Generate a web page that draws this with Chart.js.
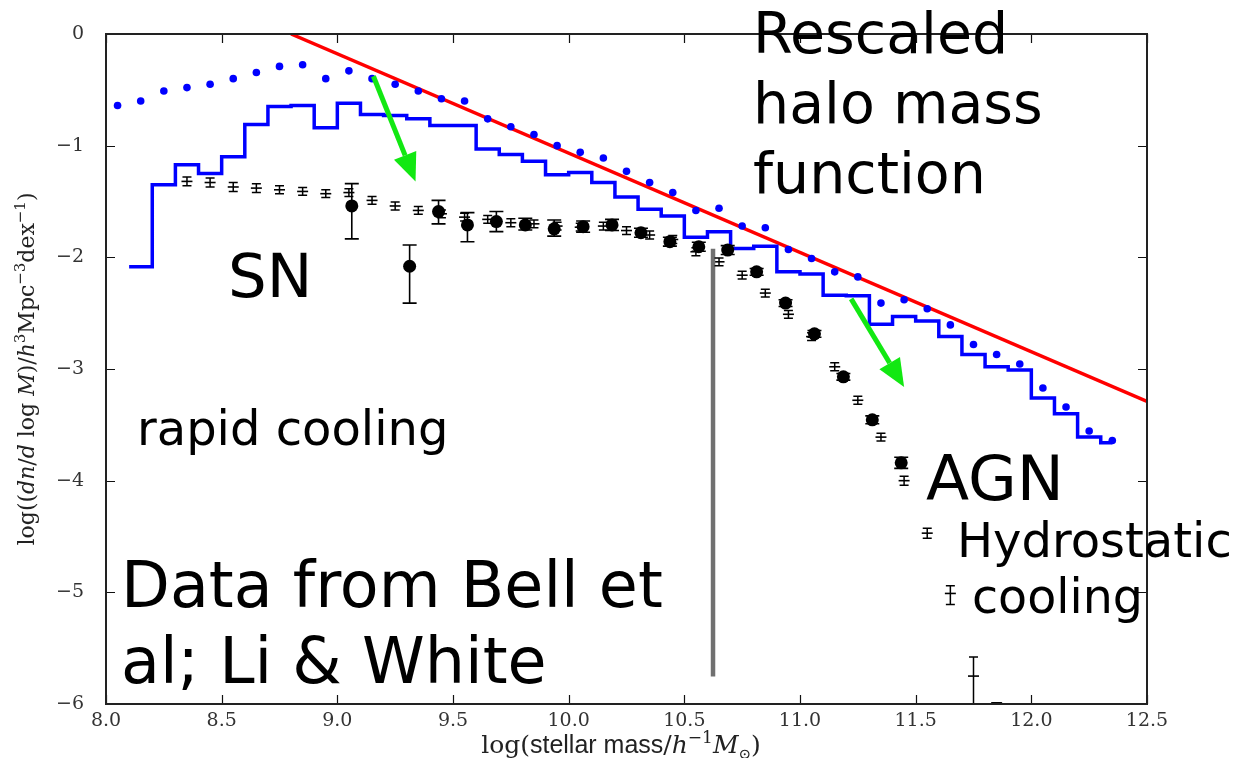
<!DOCTYPE html>
<html><head><meta charset="utf-8">
<script src="https://cdn.jsdelivr.net/npm/chart.js@4.4.1/dist/chart.umd.min.js"></script>
<style>html,body{margin:0;padding:0;background:#fff;}#wrap{width:1246px;height:758px;position:relative;}</style>
</head><body><div id="wrap"><canvas id="c"></canvas></div>
<script>
// ---- data ----
const xTicks = [8.0, 8.5, 9.0, 9.5, 10.0, 10.5, 11.0, 11.5, 12.0, 12.5];
const yTicks = [0, -1, -2, -3, -4, -5, -6];

// rescaled halo mass function (red line)
const haloX = [8.8, 12.5];
const haloY = [0, -3.29];

// rescaled halo mass function (blue dots)
const dotX = [8.05,8.15,8.25,8.35,8.45,8.55,8.65,8.75,8.85,8.95,9.05,9.15,9.25,9.35,9.45,9.55,9.65,9.75,9.85,9.95,10.05,10.15,10.25,10.35,10.45,10.55,10.65,10.75,10.85,10.95,11.05,11.15,11.25,11.35,11.45,11.55,11.65,11.75,11.85,11.95,12.05,12.15,12.25,12.35];
const dotY = [-0.64,-0.60,-0.51,-0.48,-0.45,-0.40,-0.345,-0.29,-0.275,-0.40,-0.33,-0.40,-0.45,-0.51,-0.58,-0.60,-0.76,-0.83,-0.90,-1.00,-1.06,-1.11,-1.23,-1.33,-1.42,-1.58,-1.56,-1.72,-1.735,-1.93,-2.01,-2.13,-2.175,-2.41,-2.38,-2.46,-2.605,-2.78,-2.87,-2.955,-3.17,-3.34,-3.555,-3.64];

// model stellar mass function (blue histogram, bin left edges)
const stepX = [8.1,8.2,8.3,8.4,8.5,8.6,8.7,8.8,8.9,9.0,9.1,9.2,9.3,9.4,9.5,9.6,9.7,9.8,9.9,10.0,10.1,10.2,10.3,10.4,10.5,10.6,10.7,10.8,10.9,11.0,11.1,11.2,11.3,11.4,11.5,11.6,11.7,11.8,11.9,12.0,12.1,12.2,12.3,12.35];
const stepY = [-2.085,-1.35,-1.17,-1.25,-1.10,-0.81,-0.65,-0.64,-0.84,-0.62,-0.72,-0.73,-0.76,-0.82,-0.82,-1.03,-1.08,-1.14,-1.26,-1.24,-1.33,-1.46,-1.57,-1.63,-1.82,-1.77,-1.92,-1.90,-2.13,-2.15,-2.34,-2.345,-2.60,-2.53,-2.57,-2.71,-2.87,-2.98,-3.01,-3.26,-3.40,-3.61,-3.66,-3.66];

// Bell et al. (filled circles)
const bellX = [9.0625,9.3125,9.4375,9.5625,9.6875,9.8125,9.9375,10.0625,10.1875,10.3125,10.4375,10.5625,10.6875,10.8125,10.9375,11.0625,11.1875,11.3125,11.4375];
const bellY = [-1.54,-2.08,-1.59,-1.71,-1.68,-1.71,-1.745,-1.725,-1.71,-1.78,-1.86,-1.905,-1.935,-2.13,-2.41,-2.685,-3.07,-3.455,-3.84];
const bellHi = [-1.34,-1.89,-1.49,-1.60,-1.59,-1.65,-1.665,-1.675,-1.66,-1.74,-1.82,-1.865,-1.895,-2.10,-2.38,-2.655,-3.04,-3.42,-3.79];
const bellLo = [-1.835,-2.41,-1.70,-1.86,-1.77,-1.755,-1.81,-1.775,-1.76,-1.82,-1.90,-1.945,-1.975,-2.16,-2.44,-2.715,-3.10,-3.49,-3.89];

// Li & White (small markers)
const lwX = [8.35,8.45,8.55,8.65,8.75,8.85,8.95,9.05,9.15,9.25,9.35,9.45,9.55,9.65,9.75,9.85,9.95,10.05,10.15,10.25,10.35,10.45,10.55,10.65,10.75,10.85,10.95,11.05,11.15,11.25,11.35,11.45,11.55,11.65,11.75,11.85];
const lwY = [-1.32,-1.33,-1.37,-1.38,-1.395,-1.41,-1.43,-1.42,-1.49,-1.54,-1.58,-1.61,-1.64,-1.66,-1.69,-1.70,-1.72,-1.73,-1.72,-1.76,-1.80,-1.84,-1.95,-2.04,-2.16,-2.32,-2.51,-2.71,-2.98,-3.28,-3.61,-4.00,-4.47,-5.01,-5.75,-5.99];
const lwErrUp = [0.04,0.04,0.04,0.04,0.035,0.035,0.035,0.035,0.035,0.035,0.035,0.035,0.035,0.035,0.035,0.035,0.035,0.035,0.035,0.035,0.035,0.035,0.035,0.035,0.035,0.035,0.035,0.035,0.035,0.035,0.035,0.04,0.045,0.07,0.17,0.0];
const lwErrDn = [0.04,0.04,0.04,0.04,0.035,0.035,0.035,0.035,0.035,0.035,0.035,0.035,0.035,0.035,0.035,0.035,0.035,0.035,0.035,0.035,0.035,0.035,0.035,0.035,0.035,0.035,0.035,0.035,0.035,0.035,0.035,0.04,0.045,0.10,0.80,0.30];

// vertical grey marker line
const cutX = [10.624, 10.624];
const cutY = [-1.924, -5.753];

// green arrows (from -> to)
const arrowFromX = [9.156, 11.221];
const arrowFromY = [-0.378, -2.372];
const arrowToX = [9.338, 11.45];
const arrowToY = [-1.32, -3.162];

// ---- helpers ----
const pts = (xs, ys) => xs.map((x, i) => ({x, y: ys[i]}));

const errPlugin = {
  id: 'errbars',
  afterDatasetsDraw(chart) {
    const {ctx, chartArea: a, scales: {x, y}} = chart;
    ctx.save();
    ctx.beginPath(); ctx.rect(a.left, a.top, a.right - a.left, a.bottom - a.top); ctx.clip();
    ctx.strokeStyle = '#000';
    function bar(px, hiV, loV, cap, lw) {
      const yh = y.getPixelForValue(hiV), yl = y.getPixelForValue(loV);
      ctx.lineWidth = lw;
      ctx.beginPath();
      ctx.moveTo(px, yh); ctx.lineTo(px, yl);
      ctx.moveTo(px - cap, yh); ctx.lineTo(px + cap, yh);
      ctx.moveTo(px - cap, yl); ctx.lineTo(px + cap, yl);
      ctx.stroke();
    }
    bellX.forEach((v, i) => bar(x.getPixelForValue(v), bellHi[i], bellLo[i], 7, 1.6));
    lwX.forEach((v, i) => bar(x.getPixelForValue(v), lwY[i] + lwErrUp[i], lwY[i] - lwErrDn[i], 4.5, 1.5));
    ctx.restore();

    // green arrows
    ctx.save();
    ctx.strokeStyle = '#12e812'; ctx.fillStyle = '#12e812';
    arrowFromX.forEach((v, i) => {
      const x0 = x.getPixelForValue(v), y0 = y.getPixelForValue(arrowFromY[i]);
      const x1 = x.getPixelForValue(arrowToX[i]), y1 = y.getPixelForValue(arrowToY[i]);
      const ang = Math.atan2(y1 - y0, x1 - x0);
      const hl = 28, hw = 12;
      const bx = x1 - hl * Math.cos(ang), by = y1 - hl * Math.sin(ang);
      ctx.lineWidth = 5;
      ctx.beginPath(); ctx.moveTo(x0, y0); ctx.lineTo(bx, by); ctx.stroke();
      ctx.beginPath();
      ctx.moveTo(x1, y1);
      ctx.lineTo(bx + hw * Math.sin(ang), by - hw * Math.cos(ang));
      ctx.lineTo(bx - hw * Math.sin(ang), by + hw * Math.cos(ang));
      ctx.closePath(); ctx.fill();
    });
    ctx.restore();
  }
};

function partFont(p, size) {
  const s = p.sup ? size * 0.68 : (p.sub ? size * 0.6 : size);
  return (p.it ? 'italic ' : '') + s + 'px ' + (p.sans ? '"Liberation Sans"' : '"DejaVu Serif"');
}
function richWidth(ctx, parts, size) {
  let w = 0;
  for (const p of parts) { ctx.font = partFont(p, size); w += ctx.measureText(p.t).width; }
  return w;
}
function paintRich(ctx, parts, size, x0, y0) {
  let x = x0;
  for (const p of parts) {
    ctx.font = partFont(p, size);
    ctx.fillText(p.t, x, y0 + (p.sup ? -size * 0.42 : (p.sub ? size * 0.22 : 0)));
    x += ctx.measureText(p.t).width;
  }
}

const yTitle = [
  {t: 'log(('}, {t: 'dn', it: true}, {t: '/'}, {t: 'd', it: true}, {t: ' log '}, {t: 'M', it: true},
  {t: ')/'}, {t: 'h', it: true}, {t: '3', sup: true}, {t: 'Mpc'}, {t: '−3', sup: true}, {t: 'dex'}, {t: '−1', sup: true}, {t: ')'}
];
const xTitle = [
  {t: 'log('}, {t: 'stellar mass', sans: true}, {t: '/'}, {t: 'h', it: true}, {t: '−1', sup: true},
  {t: 'M', it: true}, {t: '⊙', sub: true}, {t: ')'}
];

const framePlugin = {
  id: 'frame',
  afterDraw(chart) {
    const {ctx, chartArea: a, scales: {x, y}} = chart;
    ctx.save();
    ctx.strokeStyle = '#111'; ctx.lineWidth = 1.2;
    xTicks.forEach(v => {
      const px = Math.round(x.getPixelForValue(v)) + 0.5;
      ctx.beginPath();
      ctx.moveTo(px, a.bottom); ctx.lineTo(px, a.bottom - 9);
      ctx.moveTo(px, a.top); ctx.lineTo(px, a.top + 9);
      ctx.stroke();
    });
    yTicks.forEach(v => {
      const py = Math.round(y.getPixelForValue(v)) + 0.5;
      ctx.beginPath();
      ctx.moveTo(a.left, py); ctx.lineTo(a.left + 9, py);
      ctx.moveTo(a.right, py); ctx.lineTo(a.right - 9, py);
      ctx.stroke();
    });
    ctx.lineWidth = 2; ctx.strokeStyle = '#222';
    ctx.strokeRect(a.left, a.top, a.right - a.left, a.bottom - a.top);

    // axis titles
    ctx.fillStyle = '#222';
    ctx.textBaseline = 'alphabetic';
    ctx.textAlign = 'left';
    const ys = 22;
    const wy = richWidth(ctx, yTitle, ys);
    ctx.save();
    ctx.translate(34, (a.top + a.bottom) / 2);
    ctx.rotate(-Math.PI / 2);
    paintRich(ctx, yTitle, ys, -wy / 2, 0);
    ctx.restore();
    const xs = 25;
    const wx = richWidth(ctx, xTitle, xs);
    paintRich(ctx, xTitle, xs, 621 - wx / 2, 753);

    // annotations
    ctx.fillStyle = '#000';
    const big = (t, px, py, s) => { ctx.font = s + 'px "DejaVu Sans"'; ctx.fillText(t, px, py); };
    big('Rescaled', 753, 53, 57);
    big('halo mass', 753, 123, 57);
    big('function', 753, 193, 57);
    big('SN', 228, 297, 61);
    big('rapid cooling', 137, 445, 48);
    big('AGN', 926, 500, 63);
    big('Hydrostatic', 957, 557, 48);
    big('cooling', 972, 613, 47.5);
    big('Data from Bell et', 121, 607, 63.5);
    big('al; Li & White', 121, 683, 63.5);
    ctx.restore();
  }
};

new Chart(document.getElementById('c'), {
  type: 'scatter',
  data: {
    datasets: [
      {data: pts(cutX, cutY), showLine: true, borderColor: '#707070', borderWidth: 4.5, pointRadius: 0},
      {data: pts(bellX, bellY), pointRadius: 6.5, pointBackgroundColor: '#000', pointBorderWidth: 0, showLine: false},
      {data: pts(lwX, lwY), pointStyle: 'line', pointRadius: 5.5, pointBorderColor: '#000', pointBorderWidth: 1.6, showLine: false},
      {data: pts(stepX, stepY), showLine: true, stepped: 'before', borderColor: '#0000ff', borderWidth: 3.5, pointRadius: 0},
      {data: pts(dotX, dotY), pointRadius: 3.8, pointBackgroundColor: '#0000ff', pointBorderWidth: 0, showLine: false},
      {data: pts(haloX, haloY), showLine: true, borderColor: '#ff0000', borderWidth: 3.5, pointRadius: 0}
    ]
  },
  options: {
    responsive: true, maintainAspectRatio: false, animation: false,
    layout: {padding: {top: 34, right: 99, left: 0, bottom: 0}},
    plugins: {legend: {display: false}, tooltip: {enabled: false}},
    elements: {line: {tension: 0}},
    scales: {
      x: {
        type: 'linear', min: 8, max: 12.5,
        afterBuildTicks: s => { s.ticks = xTicks.map(v => ({value: v})); },
        afterFit: s => { s.height = 54; },
        grid: {display: false}, border: {display: false},
        ticks: {padding: -2, color: '#333', font: {family: '"DejaVu Serif"', size: 19}, callback: v => Number(v).toFixed(1), maxRotation: 0, autoSkip: false}
      },
      y: {
        type: 'linear', min: -6, max: 0,
        afterBuildTicks: s => { s.ticks = yTicks.map(v => ({value: v})); },
        afterFit: s => { s.width = 106; },
        grid: {display: false}, border: {display: false},
        ticks: {padding: 14, color: '#333', font: {family: '"DejaVu Serif"', size: 19}, callback: v => v === 0 ? '0' : '−' + Math.abs(v), autoSkip: false}
      }
    }
  },
  plugins: [errPlugin, framePlugin]
});
</script></body></html>
